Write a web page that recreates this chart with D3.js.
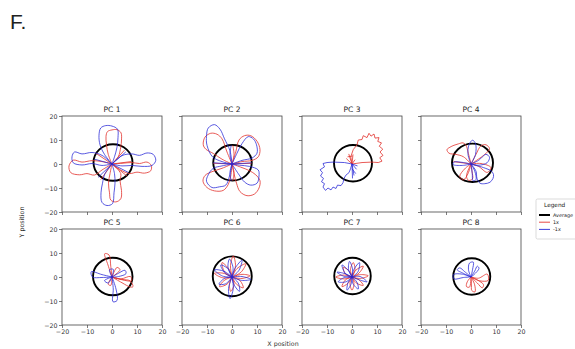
<!DOCTYPE html>
<html><head><meta charset="utf-8">
<script src="https://cdn.jsdelivr.net/npm/d3@7"></script>
<style>body{margin:0;background:#fff}svg{display:block}</style>
</head><body>
<svg id="c" width="575" height="349"></svg>
<script>
// ---------------- DATA ----------------
const panelTitles = ["PC 1","PC 2","PC 3","PC 4","PC 5","PC 6","PC 7","PC 8"];
const xTicks = [-20,-10,0,10,20];
const yTicks = [-20,-10,0,10,20];
const legendLabels = ["Average","1x","-1x"];
// average trajectory ellipse per panel: [cx, cy, rx, ry]
const avgEllipse = [[0.4,0.6,7.8,7.6],[0.2,0.5,7.7,7.4],[0.4,0.3,7.6,7.6],[0.6,0.5,8.2,8.0],
                    [0.3,0.2,7.9,7.8],[0.1,0.3,7.8,8.3],[0.2,0.4,7.3,7.6],[0.3,0.2,7.4,7.6]];
const smoothPanel = [true,true,false,true,true,true,true,true];
// +1x trajectories (red), one list of polylines per panel
const plus1x = [
 [ // PC1
  [[0,0],[-1.5,4],[-2.2,8],[-2.4,11.5],[-1.8,13.5],[0,14.2],[2,14.3],[3.6,13],[3.8,10],[3.5,7],[2.5,3],[0,0]],
  [[0,0],[4,0.3],[8,0.6],[11,0.2],[14,0.8],[15.7,-0.6],[15.5,-2.8],[13,-3.8],[10,-3.4],[7,-4],[4,-2.8],[0,0]],
  [[0,0],[-0.8,-4],[-1.4,-8],[-1,-12],[-0.5,-15],[1.5,-15.8],[3.5,-14.5],[3.8,-11],[3.2,-7],[3.5,-4],[0,0]],
  [[0,0],[-4,1],[-8,1.4],[-12,0.8],[-15.5,1.6],[-17.2,-0.8],[-16.5,-3.6],[-13,-4.5],[-10,-4],[-7,-4.6],[-4,-2.5],[0,0]],
  [[0,0],[-6.5,4.5]],[[0,0],[6,-5]],[[0,0],[5,5.8]],[[0,0],[-4.5,-6.5]],[[0,0],[7.6,1]]
 ],
 [ // PC2
  [[0,0],[-2,5],[-4,10.5],[-6,12.4],[-8.5,12.8],[-10.8,11.2],[-11.5,8],[-10.5,6.2],[-7.5,4.4],[-4,2],[0,0]],
  [[0,0],[1.5,5],[2.8,10],[5,11.8],[7.5,11.8],[10,9.5],[11.2,6],[10.5,3],[8,1.5],[4,1],[0,0]],
  [[0,0],[0.8,-4],[1.8,-8],[3.2,-11.5],[6,-13.2],[9,-12.5],[10.8,-10],[11.2,-7],[9.5,-4.5],[7,-2.8],[4,-1.5],[0,0]],
  [[0,0],[-4,-1.8],[-8,-3.2],[-10.8,-4.8],[-11.6,-7.2],[-10,-9.8],[-7,-11.2],[-3.5,-11],[-1.5,-8.5],[-0.5,-5],[0,0]],
  [[0,0],[-7.5,0.3]],[[0,0],[7.8,0.3]],[[0,0],[0.8,4],[0.3,7.8]],[[0,0],[0.8,-3.5],[0.3,-7]]
 ],
 [ // PC3
  [[0,0],[-0.5,3],[0.5,6],[2,8],[2.5,10],[4,10.2],[4.5,11.8],[6,11],[6.8,12.8],[7.6,11.6],[8.8,12.5],[9.2,10.8],[10.8,11],[10.3,9.4],[11.8,8.8],[10.9,7.4],[12.3,6.2],[11.2,5],[12.4,3.6],[11.1,2.6],[12,1.2],[10.5,0.6],[8,0.8],[4,0.6],[0,0]],
  [[0,0],[-1.3,4.2]],[[0,0],[0.4,4]],[[0,0],[-2.3,2.3]],[[0,0],[1.2,1.8]],[[-1.8,3],[0.2,3.3]]
 ],
 [ // PC4
  [[0,0],[-3,3],[-6,4],[-8.8,4.5],[-9.6,6],[-8.4,7],[-6.8,7.8],[-5,8.4],[-3.2,8.8],[-2,7.8],[-1.2,5],[0,0]],
  [[0,0],[-2.5,-2],[-4.5,-5.2],[-3,-6.6],[-1.2,-4],[0,0]],
  [[0,0],[-1.8,-5],[-1,-6.8],[0.6,-6.2],[0.4,-3],[0,0]],
  [[0,0],[3,-1],[6.5,-3.5],[8,-1.5],[4,0.2],[0,0]],
  [[0,0],[2,4],[4,7.6],[6,8],[7.4,6.4],[5.5,4],[0,0]],
  [[0,0],[-7,1]]
 ],
 [ // PC5
  [[0,0],[-1.6,5],[-2.9,9.7],[-1.2,9.2],[-0.5,4.5],[0,0]],
  [[0,0],[4,-1],[7.2,-1.6],[8.4,-4],[7.4,-4.2],[4,-2.4],[0,0]],
  [[0,0],[3.5,-0.8],[7.4,0.2],[7.8,-1.6],[0,0]],
  [[0,0],[-1.5,-3],[-0.5,-3.5],[0,0]],
  [[0,0],[2,4],[3.2,3],[0,0]]
 ],
 [ // PC6
  [[0,0],[1.4,4.8],[0.5,8.8],[-0.6,4.8],[0,0]],
  [[0,0],[3.6,2],[5.5,5.5],[2,3.5],[0,0]],
  [[0,0],[4,1.1],[7.2,0.5],[4,-0.6],[0,0]],
  [[0,0],[3.2,-1.5],[4.5,-4.5],[1.8,-3],[0,0]],
  [[0,0],[0.8,-3.2],[-0.5,-6],[-1,-3.2],[0,0]],
  [[0,0],[-2,-3],[-5,-4],[-3.2,-1.5],[0,0]],
  [[0,0],[-3.8,-0.3],[-7,1.5],[-3.6,1.6],[0,0]],
  [[0,0],[-3,2.2],[-4,6],[-1.2,3.3],[0,0]]
 ],
 [ // PC7
  [[0,0],[1.2,3.2],[0.5,6],[-0.6,3.2],[0,0]],
  [[0,0],[2.8,1.6],[4.5,4.5],[1.5,2.8],[0,0]],
  [[0,0],[3.4,1],[6.5,0.5],[3.4,-0.6],[0,0]],
  [[0,0],[2.8,-1.2],[4.5,-3.5],[1.6,-2.4],[0,0]],
  [[0,0],[0.8,-2.8],[0,-5.5],[-0.8,-2.8],[0,0]],
  [[0,0],[-1.6,-2.6],[-4,-4],[-2.6,-1.2],[0,0]],
  [[0,0],[-3.2,-0.8],[-6.5,0],[-3.2,0.8],[0,0]],
  [[0,0],[-2.6,1.2],[-3.5,4],[-1,2.4],[0,0]]
 ],
 [ // PC8
  [[0,0],[3,-0.5],[6.5,1.2],[6.9,-1.4],[3.5,-1.6],[0,0]],
  [[0,0],[0.2,-3],[0.3,-5.6],[1.6,-6.2],[1.4,-3],[0,0]],
  [[0,0],[2.5,-2.5],[4.5,-4.5],[5,-3.2],[2.5,-1.2],[0,0]],
  [[0,0],[-1.5,-2],[-1.8,-4],[-0.6,-4.2],[0,0]]
 ]
];
// -1x trajectories (blue)
const minus1x = [
 [ // PC1
  [[0,0],[-3,4],[-4.8,8],[-5.2,12],[-4.5,15],[-2.5,16],[0,15.8],[2.2,14.5],[2.4,11],[2,7],[1,3],[0,0]],
  [[0,0],[4,3.5],[8,4.2],[11,3.6],[14,4.6],[16.5,4],[17.5,1.5],[16,-0.6],[12,-1],[8,-0.6],[4,-0.8],[0,0]],
  [[0,0],[-2.8,-4],[-3.8,-8],[-4.4,-12],[-4,-16],[-2,-17.3],[0.2,-16.5],[0.8,-12],[1.2,-8],[1,-4],[0,0]],
  [[0,0],[-4,3.6],[-8,4.8],[-12,4.2],[-15,5],[-16,3],[-15.5,0.5],[-12,-0.4],[-8,0.2],[-4,-0.6],[0,0]],
  [[0,0],[-7,2]],[[0,0],[6.5,-3.5]],[[0,0],[-5.5,-5.5]],[[0,0],[5.5,5]]
 ],
 [ // PC2
  [[0,0],[-0.8,5.5],[-3,10.5],[-4.8,14.5],[-7,16.4],[-9.5,15],[-10.2,11.5],[-10,7.8],[-7.8,3],[-4,1],[0,0]],
  [[0,0],[2,4.5],[4,8.5],[6.5,11.4],[8.6,10.4],[9.8,8],[10,4.5],[8,2.5],[4,1.5],[0,0]],
  [[0,0],[2.5,-4],[5,-7.5],[7.5,-8.8],[10,-8],[10.8,-5],[10.5,-2.5],[7,-1],[3,-0.5],[0,0]],
  [[0,0],[-4,-0.8],[-7.5,-1.8],[-9.5,-4.5],[-10.2,-7.2],[-8,-9.8],[-5,-9.5],[-2.5,-8.8],[-1,-5],[0,0]],
  [[0,0],[-7.5,0.5]],[[0,0],[7.8,0.5]],[[0,0],[-0.8,4],[-0.3,7.8]],[[0,0],[-0.8,-3.5],[-0.3,-7]]
 ],
 [ // PC3
  [[0,0],[-3,0.6],[-7.5,0.8],[-10,0.6],[-11.6,0.2],[-11,-1.2],[-12.8,-2.4],[-11.8,-3.6],[-12.6,-5],[-11.4,-6],[-12.2,-7.4],[-11,-8.2],[-11.6,-9.6],[-10.6,-11],[-9.6,-10],[-8.4,-10.8],[-7.6,-9.6],[-6.4,-10.2],[-5.8,-8.8],[-4.4,-9],[-3.6,-7.8],[-3.2,-6],[-2.4,-4.6],[-1.2,-3.6],[-0.6,-2],[0,0]],
  [[0,0],[0.8,-4.8]],[[0,0],[1.8,-2.2]],[[0,0],[0.2,-6]],[[0,0],[2.2,-0.8]],[[0,-2],[1.5,-4]]
 ],
 [ // PC4
  [[0,0],[-1.2,4],[-0.8,8],[0.6,9.9],[1.8,8.5],[1.8,4],[0,0]],
  [[0,0],[-3.5,-0.6],[-7.2,-0.2],[-6.8,0.8],[-3,0.6],[0,0]],
  [[0,0],[2,-3],[2.4,-6],[3.6,-8],[5.5,-8.2],[7.6,-7.6],[8.8,-6],[9,-4.4],[8.2,-3],[5,-1.5],[0,0]],
  [[0,0],[3,1.5],[6,4],[7.4,2.8],[6.4,0.5],[3,-0.5],[0,0]],
  [[0,0],[0.5,-4],[0.8,-7],[2,-6.5],[1.5,-3],[0,0]]
 ],
 [ // PC5
  [[0,0],[-4,1],[-8.3,2.2],[-7.8,0],[-4,-0.2],[0,0]],
  [[0,0],[0.5,-5],[0.4,-10.3],[2,-9.8],[1.6,-5],[0,0]],
  [[0,0],[2.5,1.5],[5.2,2.8],[5.6,1.4],[2.6,0.2],[0,0]],
  [[0,0],[-3,-1.5],[-1.5,-2.5],[0,0]],
  [[0,0],[-1,3],[0.5,3.2],[0,0]]
 ],
 [ // PC6
  [[0,0],[0.5,-4.8],[-0.8,-9],[-1.4,-4.8],[0,0]],
  [[0,0],[0.4,4],[-1,7.5],[-1.6,4],[0,0]],
  [[0,0],[2.8,2.8],[4,7],[1.2,3.6],[0,0]],
  [[0,0],[4,0.2],[7.5,-1],[3.8,-1.4],[0,0]],
  [[0,0],[2.5,-2.5],[3,-6],[0.8,-3.2],[0,0]],
  [[0,0],[-2.5,-2.8],[-5.2,-3],[-3,-0.6],[0,0]],
  [[0,0],[-3.8,0.4],[-7,3],[-3.2,2.4],[0,0]],
  [[0,0],[-1.8,3.6],[-4.5,5],[-2.8,1.6],[0,0]]
 ],
 [ // PC7
  [[0,0],[0.2,3.4],[-1,6.5],[-1.4,3.2],[0,0]],
  [[0,0],[2.4,2.2],[3,6],[0.8,3.2],[0,0]],
  [[0,0],[3.2,0.2],[6,-2],[3,-1.2],[0,0]],
  [[0,0],[2,-2.2],[2.5,-5],[0.4,-2.8],[0,0]],
  [[0,0],[-0.4,-3],[-2,-5.5],[-1.6,-2.4],[0,0]],
  [[0,0],[-2.4,-2],[-5.5,-2],[-3,-0.2],[0,0]],
  [[0,0],[-3,0.2],[-6,2],[-2.8,1.4],[0,0]],
  [[0,0],[-1.4,2.6],[-4,5],[-2.6,1.4],[0,0]]
 ],
 [ // PC8
  [[0,0],[-3,-0.2],[-6.8,-0.8],[-7,1],[-3.5,1.2],[0,0]],
  [[0,0],[-3,1.5],[-5.5,3],[-4.5,3.8],[-2.5,2.2],[0,0]],
  [[0,0],[-1,3],[-0.6,5.8],[0.9,6.2],[0.6,3],[0,0]],
  [[0,0],[1.5,2.5],[2.5,4.5],[3.2,3.6],[1.2,1],[0,0]]
 ]
];

// ---------------- DRAWING ----------------
const svg = d3.select("#c");
const font = "DejaVu Sans, sans-serif";
const colRed = "#e3342f", colBlue = "#2626d6", colAvg = "#000";
const panelW = 100, panelH = 96;
const lefts = [62,182,302,421];
const tops = [116,229];

svg.append("text").attr("x",10).attr("y",29).attr("font-family","Liberation Sans, Arial, sans-serif")
   .attr("font-size",21).attr("fill","#222").text("F.");

panelTitles.forEach((title,i)=>{
  const col = i%4, row = Math.floor(i/4);
  const g = svg.append("g").attr("transform",`translate(${lefts[col]},${tops[row]})`);
  const x = d3.scaleLinear().domain([-20,20]).range([0,panelW]);
  const y = d3.scaleLinear().domain([-20,20]).range([panelH,0]);

  const cid = "clip"+i;
  g.append("clipPath").attr("id",cid).append("rect").attr("width",panelW).attr("height",panelH);
  const plot = g.append("g").attr("clip-path",`url(#${cid})`);

  const e = avgEllipse[i];
  plot.append("ellipse").attr("cx",x(e[0])).attr("cy",y(e[1]))
     .attr("rx",x(e[0]+e[2])-x(e[0])).attr("ry",y(e[1])-y(e[1]+e[3]))
     .attr("fill","none").attr("stroke",colAvg).attr("stroke-width",1.9);

  const line = d3.line().x(d=>x(d[0])).y(d=>y(d[1]))
     .curve(smoothPanel[i] ? d3.curveCatmullRom.alpha(0.5) : d3.curveLinear);
  plot.selectAll("path.r").data(plus1x[i]).join("path").attr("class","r")
     .attr("d",line).attr("fill","none").attr("stroke",colRed).attr("stroke-width",0.9).attr("stroke-opacity",0.9);
  plot.selectAll("path.b").data(minus1x[i]).join("path").attr("class","b")
     .attr("d",line).attr("fill","none").attr("stroke",colBlue).attr("stroke-width",0.9).attr("stroke-opacity",0.85);

  const xa = d3.axisBottom(x).tickValues(xTicks).tickSize(3).tickPadding(1.5)
     .tickFormat(row===1 ? (d=>String(d).replace("-","\u2212")) : "");
  const ya = d3.axisLeft(y).tickValues(yTicks).tickSize(3).tickPadding(1.5)
     .tickFormat(col===0 ? (d=>String(d).replace("-","\u2212")) : "");
  const gx = g.append("g").attr("transform",`translate(0,${panelH})`).call(xa);
  const gy = g.append("g").call(ya);
  [gx,gy].forEach(a=>{
    a.select(".domain").remove();
    a.selectAll("line").attr("stroke","#444").attr("stroke-width",0.7);
    a.selectAll("text").attr("font-family",font).attr("font-size",6.3).attr("fill","#333");
  });
  g.append("rect").attr("width",panelW).attr("height",panelH).attr("fill","none")
    .attr("stroke","#444").attr("stroke-width",0.8);

  g.append("text").attr("x",panelW/2).attr("y",-4).attr("text-anchor","middle")
    .attr("font-family",font).attr("font-size",7.5).attr("fill","#222").text(title);
});

svg.append("text").attr("x",283).attr("y",346).attr("text-anchor","middle")
  .attr("font-family",font).attr("font-size",6.3).attr("fill","#333").text("X position");
svg.append("text").attr("transform","translate(24,222) rotate(-90)").attr("text-anchor","middle")
  .attr("font-family",font).attr("font-size",6.3).attr("fill","#333").text("Y position");

// legend
const lg = svg.append("g").attr("transform","translate(536,199)");
lg.append("rect").attr("width",50).attr("height",40).attr("fill","#fff").attr("stroke","#ccc").attr("stroke-width",0.7).attr("rx",1.5);
lg.append("text").attr("x",8).attr("y",7.5).attr("font-family",font).attr("font-size",5.8).attr("fill","#222").text("Legend");
const lgCols = [colAvg,colRed,colBlue], lgW = [2,0.9,0.9];
legendLabels.forEach((t,k)=>{
  const yy = 16 + k*7.2;
  lg.append("line").attr("x1",3).attr("x2",14).attr("y1",yy).attr("y2",yy)
    .attr("stroke",lgCols[k]).attr("stroke-width",lgW[k]);
  lg.append("text").attr("x",17).attr("y",yy+2).attr("font-family",font).attr("font-size",4.9).attr("fill","#222").text(t);
});
</script>
</body></html>
